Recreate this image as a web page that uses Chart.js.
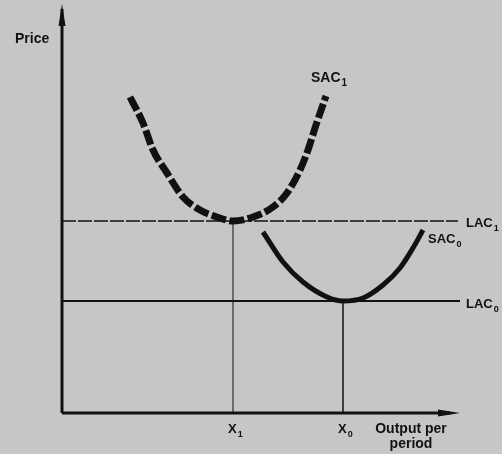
<!DOCTYPE html>
<html>
<head>
<meta charset="utf-8">
<script src="https://cdn.jsdelivr.net/npm/chart.js@4"></script>
<style>
  html, body { margin: 0; padding: 0; background: #c6c6c6; }
  #wrap { width: 502px; height: 454px; position: relative; }
</style>
</head>
<body>
<div id="wrap"><canvas id="costChart"></canvas></div>
<script>
// Short-run average cost SAC1 (dashed, higher)
const sac1X = [6.8, 8.1, 9.1, 10.5, 12.1, 13.8, 15.5, 17.1, 19.1, 21.1, 22.5, 23.8, 24.6, 25.4, 26.4];
const sac1Y = [31.6, 29.0, 26.3, 24.0, 21.6, 20.3, 19.6, 19.2, 19.6, 20.6, 22.0, 24.3, 26.3, 28.8, 31.7];

// Short-run average cost SAC0 (solid, lower)
const sac0X = [20.1, 22.1, 24.1, 26.5, 28.1, 30.1, 32.1, 33.8, 35.1, 36.1];
const sac0Y = [18.1, 15.1, 13.1, 11.6, 11.2, 11.5, 12.8, 14.5, 16.5, 18.3];

// long-run levels and outputs
const lac1Level = 19.2;
const lac0Level = 11.2;
const x1Output = 17.1;
const x0Output = 28.1;
const axisEndX = 39.8;
const axisEndY = 40.4;

const xTickLabels = [['X', '1'], ['X', '0']];
const curveNames = [['SAC', '1'], ['SAC', '0'], ['LAC', '1'], ['LAC', '0']];

function pts(xs, ys) {
  return xs.map((x, i) => ({ x: x, y: ys[i] }));
}

const ink = '#111';

// arrowheads + text labels
const annotatePlugin = {
  id: 'annotate',
  afterDatasetsDraw(chart) {
    const ctx = chart.ctx;
    const sx = chart.scales.x;
    const sy = chart.scales.y;
    const X = v => sx.getPixelForValue(v);
    const Y = v => sy.getPixelForValue(v);

    ctx.save();
    ctx.fillStyle = ink;
    // arrow on price axis
    let tx = X(0), ty = Y(axisEndY + 0.5);
    ctx.beginPath();
    ctx.moveTo(tx, ty);
    ctx.lineTo(tx - 3.5, ty + 22);
    ctx.lineTo(tx + 3.5, ty + 22);
    ctx.closePath();
    ctx.fill();
    // arrow on output axis
    tx = X(axisEndX); ty = Y(0);
    ctx.beginPath();
    ctx.moveTo(tx, ty);
    ctx.lineTo(tx - 22, ty - 3.5);
    ctx.lineTo(tx - 22, ty + 3.5);
    ctx.closePath();
    ctx.fill();

    function sub(main, s, x, y, size) {
      ctx.font = 'bold ' + size + 'px "Liberation Sans", Arial, sans-serif';
      ctx.textBaseline = 'alphabetic';
      ctx.textAlign = 'left';
      const w = ctx.measureText(main).width;
      ctx.fillText(main, x, y);
      if (s) {
        ctx.font = 'bold ' + Math.round(size * 0.7) + 'px "Liberation Sans", Arial, sans-serif';
        ctx.fillText(s, x + w + 1, y + 4);
      }
    }

    sub('Price', null, 15, 43, 14);

    // curve labels
    sub(curveNames[0][0], curveNames[0][1], X(24.9), Y(33.1), 14);
    sub(curveNames[1][0], curveNames[1][1], X(36.6), Y(17.0), 13);
    sub(curveNames[2][0], curveNames[2][1], X(40.4), Y(18.6), 13);
    sub(curveNames[3][0], curveNames[3][1], X(40.4), Y(10.5), 13);

    // output ticks
    sub(xTickLabels[0][0], xTickLabels[0][1], X(x1Output) - 5, Y(0) + 20, 13);
    sub(xTickLabels[1][0], xTickLabels[1][1], X(x0Output) - 5, Y(0) + 20, 13);

    ctx.font = 'bold 14px "Liberation Sans", Arial, sans-serif';
    ctx.textAlign = 'center';
    ctx.fillText('Output per', 411, 433);
    ctx.fillText('period', 411, 448);
    ctx.restore();
  }
};

const ctx = document.getElementById('costChart').getContext('2d');
new Chart(ctx, {
  type: 'scatter',
  data: {
    datasets: [
      {
        // price axis
        data: [{ x: 0, y: 0 }, { x: 0, y: axisEndY }],
        borderColor: ink, borderWidth: 3, showLine: true, pointRadius: 0,
      },
      {
        // output axis
        data: [{ x: 0, y: 0 }, { x: axisEndX - 1, y: 0 }],
        borderColor: ink, borderWidth: 3, showLine: true, pointRadius: 0,
      },
      {
        // LAC1
        data: [{ x: 0, y: lac1Level }, { x: 39.6, y: lac1Level }],
        borderColor: ink, borderWidth: 1.5, borderDash: [14, 2], showLine: true, pointRadius: 0,
      },
      {
        // LAC0
        data: [{ x: 0, y: lac0Level }, { x: 39.8, y: lac0Level }],
        borderColor: ink, borderWidth: 2, showLine: true, pointRadius: 0,
      },
      {
        data: [{ x: x1Output, y: 0 }, { x: x1Output, y: lac1Level }],
        borderColor: ink, borderWidth: 1, showLine: true, pointRadius: 0,
      },
      {
        data: [{ x: x0Output, y: 0 }, { x: x0Output, y: lac0Level }],
        borderColor: ink, borderWidth: 1.5, showLine: true, pointRadius: 0,
      },
      {
        label: 'SAC1',
        data: pts(sac1X, sac1Y),
        borderColor: ink, borderWidth: 7, borderDash: [15, 3.5], borderCapStyle: 'butt',
        showLine: true, pointRadius: 0, cubicInterpolationMode: 'monotone',
      },
      {
        label: 'SAC0',
        data: pts(sac0X, sac0Y),
        borderColor: ink, borderWidth: 5, showLine: true, pointRadius: 0,
        cubicInterpolationMode: 'monotone',
      },
    ],
  },
  options: {
    responsive: true,
    maintainAspectRatio: false,
    animation: false,
    layout: { padding: 0 },
    plugins: {
      legend: { display: false },
      tooltip: { enabled: false },
    },
    scales: {
      x: { type: 'linear', display: false, min: -6.2, max: 44.0 },
      y: { type: 'linear', display: false, min: -4.1, max: 41.3 },
    },
  },
  plugins: [annotatePlugin],
});
</script>
</body>
</html>
